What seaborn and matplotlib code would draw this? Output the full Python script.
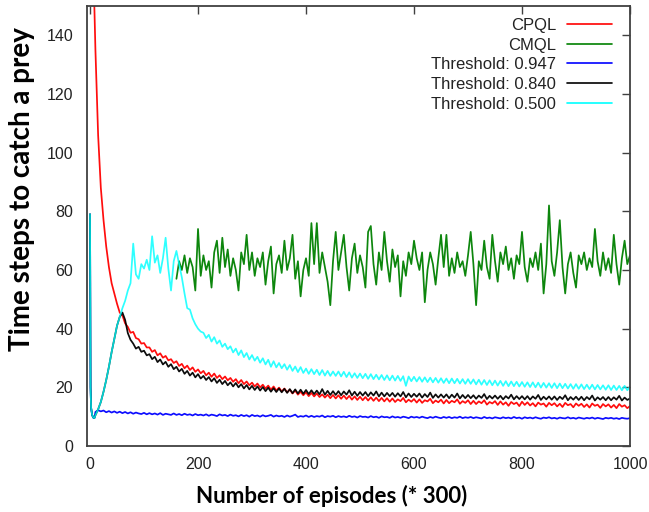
import matplotlib
matplotlib.use("Agg")
import matplotlib.pyplot as plt
import pandas as pd
import seaborn as sns

# Episode positions (in units of 300 episodes)
head_episodes = [0, 1, 2, 4, 6, 8]
tail_episodes = list(range(10, 1001, 5))
cmql_episodes = list(range(160, 1001, 5))

# CPQL
cpql_head = [420, 330, 270, 200, 170, 150]
cpql_tail = [
    135, 106, 88, 77, 68, 61, 55.5, 52, 48.5, 45.5,
    44.5, 41.8, 40.6, 38.6, 38.9, 36.8, 36.4, 34.9, 35.1, 33.6,
    33.6, 32.1, 32.7, 30.9, 31.6, 30.1, 30.7, 29.2, 29.6, 28.3,
    28.9, 27.3, 28.0, 26.5, 27.4, 25.9, 26.8, 25.3, 26.1, 24.8,
    25.6, 24.1, 25.0, 23.6, 24.7, 23.2, 24.1, 22.8, 23.7, 22.4,
    23.2, 21.9, 22.8, 21.4, 22.5, 21.1, 22.0, 20.7, 21.6, 20.3,
    21.3, 20.0, 20.9, 19.6, 20.6, 19.2, 20.3, 18.9, 19.9, 18.6,
    19.6, 18.3, 19.2, 17.9, 18.9, 17.5, 18.5, 17.3, 18.3, 17.0,
    18.1, 16.9, 17.9, 16.7, 17.6, 16.5, 17.5, 16.3, 17.4, 16.2,
    17.3, 16.1, 17.2, 16.0, 17.1, 15.8, 16.9, 15.7, 16.8, 15.6,
    16.7, 15.5, 16.6, 15.4, 16.5, 15.3, 16.4, 15.2, 16.3, 15.1,
    16.2, 15.0, 15.9, 15.3, 16.4, 14.9, 15.8, 15.1, 16.0, 14.8,
    15.9, 14.7, 15.6, 15.2, 16.1, 14.6, 15.5, 14.9, 15.8, 14.5,
    15.7, 14.6, 15.4, 14.9, 15.9, 14.4, 15.3, 14.7, 15.6, 14.3,
    15.4, 14.3, 15.2, 14.6, 15.6, 14.1, 15.0, 14.5, 15.3, 14.0,
    15.2, 14.1, 14.9, 13.7, 15.0, 14.3, 14.8, 13.6, 15.1, 14.0,
    14.9, 13.8, 14.6, 13.5, 14.8, 14.1, 14.5, 13.4, 14.7, 13.9,
    14.6, 13.5, 14.4, 13.3, 14.7, 13.9, 14.3, 13.2, 14.5, 13.7,
    14.4, 13.3, 14.2, 13.1, 14.5, 13.7, 14.1, 13.0, 14.3, 13.5,
    14.2, 13.1, 14.0, 12.9, 14.3, 13.4, 13.9, 12.9, 13.6,
]

# CMQL
cmql = [
    57, 63, 60, 65, 59, 64, 61, 53, 74, 58,
    65, 60, 63, 54, 66, 70, 59, 71, 61, 67,
    58, 64, 60, 53, 66, 62, 72, 60, 66, 58,
    64, 61, 66, 55, 63, 68, 52, 62, 65, 59,
    70, 60, 64, 72, 57, 63, 51, 60, 64, 58,
    76, 62, 76, 59, 66, 61, 56, 48, 63, 73,
    60, 66, 72, 61, 53, 64, 69, 59, 65, 61,
    54, 73, 75, 62, 55, 66, 60, 73, 63, 56,
    67, 61, 65, 51, 63, 58, 66, 62, 70, 64,
    60, 66, 49, 60, 66, 62, 55, 64, 72, 61,
    72, 58, 64, 59, 66, 61, 63, 58, 65, 73,
    62, 48, 63, 60, 70, 61, 57, 72, 63, 56,
    66, 62, 68, 60, 64, 57, 65, 62, 73, 61,
    56, 64, 61, 66, 60, 69, 52, 62, 82, 63,
    58, 66, 77, 61, 52, 62, 66, 59, 54, 65,
    62, 66, 60, 64, 61, 74, 63, 58, 66, 60,
    64, 59, 72, 62, 55, 64, 70, 62, 65,
]

# Threshold 0.947
th947_head = [79, 20, 13, 10.5, 9.7, 9.5]
th947_tail = [
    11.6, 12.2, 11.8, 12.1, 11.5, 11.9, 11.4, 11.8, 11.3, 11.7,
    11.2, 11.6, 11.1, 11.5, 11.0, 11.4, 11.1, 10.9, 11.3, 10.8,
    11.2, 10.8, 11.1, 10.7, 11.2, 10.6, 11.0, 10.8, 10.6, 11.1,
    10.6, 10.9, 10.5, 11.0, 10.6, 10.8, 10.4, 10.9, 10.5, 10.7,
    10.4, 10.8, 10.3, 10.7, 10.5, 10.2, 10.8, 10.4, 10.6, 10.2,
    10.7, 10.3, 10.5, 10.1, 10.6, 10.2, 10.5, 10.0, 10.6, 10.2,
    10.4, 10.0, 10.5, 10.1, 10.3, 10.6, 10.0, 10.4, 10.1, 10.3,
    9.9, 10.4, 10.0, 10.3, 10.7, 9.9, 10.2, 10.0, 10.4, 9.9,
    10.3, 9.9, 10.2, 10.0, 10.4, 9.8, 10.2, 10.0, 10.3, 9.8,
    10.2, 9.9, 10.1, 9.8, 10.3, 9.9, 10.1, 9.7, 10.2, 9.9,
    10.0, 9.7, 10.2, 9.8, 10.0, 9.6, 10.1, 9.8, 9.9, 9.6,
    10.1, 9.7, 9.9, 9.6, 10.0, 9.8, 9.5, 10.0, 9.7, 9.9,
    9.6, 10.0, 9.7, 9.5, 9.9, 9.6, 10.0, 9.7, 9.5, 9.9,
    9.6, 9.9, 9.5, 9.8, 9.6, 10.0, 9.5, 9.8, 9.6, 9.9,
    9.5, 9.8, 9.6, 9.4, 9.9, 9.5, 9.7, 9.4, 9.8, 9.6,
    9.4, 9.8, 9.5, 9.7, 9.4, 9.9, 9.5, 9.7, 9.3, 9.8,
    9.5, 9.7, 9.4, 9.8, 9.5, 9.3, 9.7, 9.5, 9.8, 9.4,
    9.6, 9.3, 9.7, 9.5, 9.4, 9.8, 9.4, 9.6, 9.3, 9.7,
    9.5, 9.3, 9.6, 9.4, 9.7, 9.3, 9.6, 9.4, 9.2, 9.6,
    9.4, 9.6, 9.3, 9.5, 9.2, 9.6, 9.4, 9.3, 9.5,
]

# Threshold 0.840
th840_head = [79, 20, 13, 10.5, 9.7, 9.5]
th840_tail = [
    10.5, 12.5, 15.0, 18.5, 22.5, 27.0, 32.0, 36.5, 41.0, 44.0,
    45.5, 43.0, 38.5, 36.2, 34.9, 33.2, 33.8, 32.1, 32.5, 30.9,
    31.3, 29.6, 30.4, 28.6, 29.5, 27.8, 28.7, 27.0, 27.9, 26.2,
    27.0, 25.4, 26.3, 24.6, 25.6, 24.0, 25.0, 23.4, 24.5, 23.0,
    23.9, 22.5, 23.5, 22.0, 23.1, 21.5, 22.6, 21.1, 22.2, 20.7,
    21.7, 20.3, 21.5, 20.0, 21.1, 19.6, 20.8, 19.3, 20.5, 19.1,
    20.3, 18.9, 20.1, 18.7, 19.9, 18.5, 19.7, 18.4, 19.6, 18.3,
    19.5, 18.1, 19.4, 18.0, 19.3, 17.9, 19.2, 17.8, 19.1, 17.7,
    19.0, 17.7, 18.9, 17.6, 19.4, 17.5, 18.8, 17.4, 18.7, 17.4,
    18.7, 17.3, 18.6, 17.5, 19.0, 17.2, 18.5, 17.1, 18.4, 17.2,
    18.4, 17.0, 18.3, 17.2, 18.6, 16.9, 18.2, 16.9, 18.1, 17.0,
    18.1, 16.8, 18.0, 16.9, 18.4, 16.6, 17.9, 16.7, 17.8, 16.8,
    17.9, 16.5, 17.7, 16.7, 18.2, 16.4, 17.6, 16.5, 17.6, 16.5,
    17.6, 16.3, 17.5, 16.5, 17.9, 16.2, 17.4, 16.3, 17.4, 16.3,
    17.3, 16.1, 17.2, 16.4, 17.7, 16.0, 17.1, 16.2, 17.2, 16.1,
    17.1, 15.9, 17.0, 16.2, 17.5, 15.9, 17.0, 16.0, 17.0, 15.9,
    17.0, 15.8, 16.9, 16.1, 17.4, 15.7, 16.8, 15.9, 16.9, 15.8,
    16.9, 15.7, 16.8, 16.0, 17.3, 15.6, 16.7, 15.8, 16.8, 15.7,
    16.8, 15.6, 16.7, 15.9, 17.2, 15.5, 16.6, 15.8, 16.7, 15.6,
    16.7, 15.6, 16.6, 15.8, 17.1, 15.5, 16.5, 15.7, 16.2,
]

# Threshold 0.500
th500_head = [79, 20, 13, 10.5, 9.7, 9.5]
th500_tail = [
    10.5, 12.5, 15.0, 18.5, 22.5, 27.0, 32.0, 36.5, 41.0, 44.0,
    47.0, 49.5, 53.0, 55.5, 69.0, 58.5, 57.0, 62.0, 60.5, 63.5,
    60.0, 71.5, 62.5, 65.0, 59.0, 64.0, 71.0, 60.5, 53.0, 63.0,
    66.5, 62.0, 57.5, 52.0, 47.0, 46.5, 43.5, 41.5, 40.0, 39.0,
    38.6, 36.8, 37.9, 35.6, 37.1, 34.9, 36.0, 33.8, 34.9, 33.0,
    34.0, 31.9, 33.2, 31.0, 32.6, 30.3, 31.7, 29.5, 31.0, 29.1,
    30.4, 28.4, 29.9, 27.8, 29.4, 27.0, 28.9, 26.8, 28.3, 26.5,
    27.9, 26.0, 27.6, 25.6, 27.1, 25.2, 26.9, 24.9, 26.4, 24.6,
    26.2, 24.5, 26.0, 24.2, 25.9, 24.0, 25.6, 23.9, 25.4, 23.9,
    25.4, 23.7, 25.3, 23.5, 25.1, 23.3, 24.8, 23.2, 24.7, 23.1,
    24.6, 22.9, 24.5, 22.8, 24.3, 22.7, 24.2, 22.5, 24.1, 22.4,
    24.0, 22.3, 23.9, 22.2, 23.8, 20.5, 23.7, 22.1, 23.6, 22.0,
    23.5, 21.9, 23.4, 21.8, 23.3, 21.7, 23.2, 21.6, 23.1, 21.5,
    23.0, 21.4, 23.0, 21.4, 22.9, 21.3, 22.8, 21.2, 22.8, 21.2,
    22.7, 21.0, 22.6, 20.9, 22.5, 20.8, 22.4, 20.7, 22.3, 20.6,
    22.2, 20.5, 22.1, 20.4, 22.0, 20.4, 21.9, 20.3, 21.8, 20.2,
    21.7, 20.1, 21.7, 20.0, 21.6, 19.9, 21.5, 19.9, 21.4, 19.8,
    21.4, 19.7, 21.3, 19.7, 21.2, 19.6, 21.1, 19.5, 21.1, 19.5,
    21.0, 19.4, 20.9, 19.4, 20.9, 19.3, 20.8, 19.3, 20.7, 19.2,
    20.7, 19.1, 20.6, 19.1, 20.5, 19.0, 20.5, 19.0, 20.2,
]

labels = ["CPQL", "CMQL", "Threshold: 0.947", "Threshold: 0.840", "Threshold: 0.500"]
colors = ["#ff0000", "#008000", "#0000ff", "#000000", "#00ffff"]
alphas = [0.95, 0.95, 0.95, 0.95, 0.82]

x_ticks = [0, 200, 400, 600, 800, 1000]
y_ticks = [0, 20, 40, 60, 80, 100, 120, 140]

series = [
    (head_episodes + tail_episodes, cpql_head + cpql_tail),
    (cmql_episodes, cmql),
    (head_episodes + tail_episodes, th947_head + th947_tail),
    (head_episodes + tail_episodes, th840_head + th840_tail),
    (head_episodes + tail_episodes, th500_head + th500_tail),
]

sns.set_theme(style="white")
plt.rcParams["font.family"] = ["Liberation Sans", "DejaVu Sans"]

fig = plt.figure(figsize=(6.49, 5.12), dpi=100)
ax = fig.add_axes([87 / 649, 66 / 512, 543 / 649, 440 / 512])

for (xs, ys), lab, col, a in zip(series, labels, colors, alphas):
    df = pd.DataFrame({"episode": xs, "steps": ys})
    sns.lineplot(data=df, x="episode", y="steps", color=col, label=lab,
                 linewidth=1.25, alpha=a, estimator=None, sort=False, ax=ax)

ax.set_xlim(-5.6, 1000)
ax.set_ylim(0, 150)
ax.set_xticks(x_ticks)
ax.set_yticks(y_ticks)
ax.set_xlabel("")
ax.set_ylabel("")

for sp in ax.spines.values():
    sp.set_color("#404040")
    sp.set_linewidth(1.3)
ax.tick_params(direction="in", length=6, width=1.0, color="#404040",
               top=True, right=True, labelsize=11.5, labelcolor="#222222")
ax.tick_params(axis="x", pad=8)
ax.tick_params(axis="y", pad=10)

leg = ax.legend(loc="upper right", bbox_to_anchor=(612 / 649, 1 - 18 / 512),
                bbox_transform=fig.transFigure, frameon=False, markerfirst=False,
                fontsize=12, handlelength=2.7, handletextpad=0.65,
                labelspacing=0.28, borderpad=0, borderaxespad=0)
for t in leg.get_texts():
    t.set_color("#222222")
for h in leg.get_lines():
    h.set_alpha(1.0)
    h.set_linewidth(1.2)

fig.text(22 / 649, 1 - 189 / 512, "Time steps to catch a prey", rotation=90,
         ha="center", va="center", fontsize=20, fontweight="bold",
         family=["Lato", "DejaVu Sans"], color="black")
fig.text(332 / 649, 1 - 496 / 512, "Number of episodes (* 300)",
         ha="center", va="center", fontsize=16, fontweight="bold",
         family=["Lato", "DejaVu Sans"], color="black")

fig.savefig("out.png", dpi=100, facecolor="white")
